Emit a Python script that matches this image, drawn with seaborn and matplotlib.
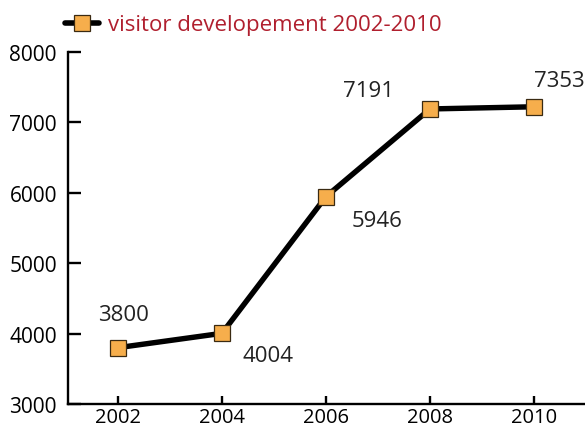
import matplotlib
matplotlib.use("Agg")
import matplotlib.pyplot as plt
import seaborn as sns
import pandas as pd

# ---- data ----
years = [2002, 2004, 2006, 2008, 2010]
visitors = [3800, 4004, 5946, 7191, 7222]          # plotted positions as drawn
value_labels = ["3800", "4004", "5946", "7191", "7353"]  # printed labels
series_name = "visitor developement 2002-2010"
y_ticks = [3000, 4000, 5000, 6000, 7000, 8000]

# label offsets (points) relative to each point
label_offsets = [(4, 24), (33, -16), (37, -17), (-44, 13), (18, 19)]

sns.set_theme(style="white")
plt.rcParams["font.family"] = ["Open Sans", "DejaVu Sans"]

df = pd.DataFrame({"year": years, "visitors": visitors, "series": series_name})

fig = plt.figure(figsize=(5.85, 4.31), dpi=100)
ax = fig.add_axes([68 / 585, 26 / 431, 517 / 585, (405 - 53) / 431])

sns.lineplot(data=df, x="year", y="visitors", hue="series", ax=ax,
             palette=["black"], lw=3.9, marker="s", markersize=11.5,
             markerfacecolor="#F6AE4C", markeredgecolor="#3a2a12",
             markeredgewidth=0.9, legend=True)

ax.set_xlim(2001.04, 2010.98)
ax.set_ylim(3000, 8000)
ax.set_xticks(years)
ax.set_xticklabels([str(y) for y in years])
ax.set_yticks(y_ticks)
ax.set_yticklabels([str(t) for t in y_ticks])
ax.set_xlabel("")
ax.set_ylabel("")

for s in ["top", "right"]:
    ax.spines[s].set_visible(False)
for s in ["left", "bottom"]:
    ax.spines[s].set_color("black")
    ax.spines[s].set_linewidth(1.7)

ax.tick_params(axis="y", direction="in", length=9, width=1.7, pad=8,
               labelsize=15, colors="black", left=True)
ax.tick_params(axis="x", direction="in", length=6, width=1.7, pad=2.5,
               labelsize=14.5, colors="black", bottom=True)

for x, y, lab, (dx, dy) in zip(years, visitors, value_labels, label_offsets):
    ax.annotate(lab, (x, y), xytext=(dx, dy), textcoords="offset points",
                ha="center", va="center", fontsize=16, color="#222222")

leg = ax.legend(loc="center left", bbox_to_anchor=(65 / 585, 1 - 26 / 431),
                bbox_transform=fig.transFigure, frameon=False,
                borderpad=0, borderaxespad=0, handlelength=1.55,
                handletextpad=0.4, fontsize=16, labelcolor="#B01F2E")
for h in leg.legend_handles:
    h.set_linewidth(4)

fig.savefig("out.png", dpi=100)
